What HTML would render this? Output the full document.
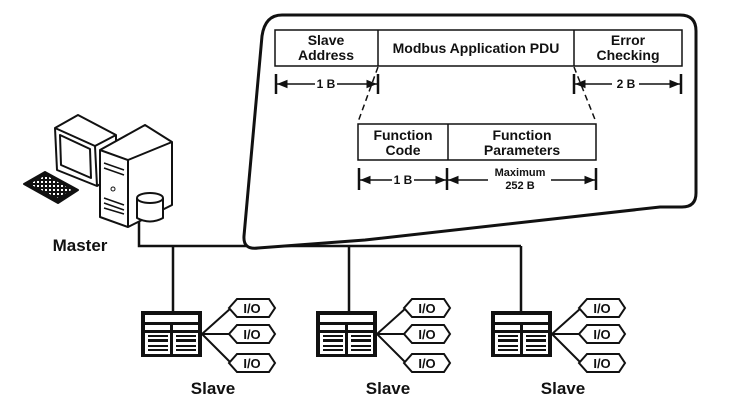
<!DOCTYPE html>
<html><head><style>
html,body{margin:0;padding:0;background:#fff;}
svg{display:block;}
text{font-family:"Liberation Sans",Arial,sans-serif;font-weight:bold;fill:#111;}
</style></head><body>
<svg width="730" height="407" viewBox="0 0 730 407" xmlns="http://www.w3.org/2000/svg">
<defs>
<marker id="ah" viewBox="0 0 10 10" refX="10" refY="5" markerWidth="8" markerHeight="7" orient="auto-start-reverse"><path d="M0,1 L10,5 L0,9 Z" fill="#111"/></marker>
<pattern id="keys" width="4" height="4" patternUnits="userSpaceOnUse"><rect width="4" height="4" fill="#111"/><rect x="1" y="1" width="2" height="2" fill="#fff"/></pattern>
<g id="slave">
  <rect x="0" y="0" width="61" height="46" fill="#111"/>
  <rect x="4" y="4" width="53" height="7" fill="#fff"/>
  <rect x="4" y="14" width="25" height="5" fill="#fff"/>
  <rect x="32" y="14" width="25" height="5" fill="#fff"/>
  <rect x="4" y="22" width="25" height="21" fill="#fff"/>
  <rect x="32" y="22" width="25" height="21" fill="#fff"/>
  <rect x="7" y="24" width="20" height="2" fill="#111"/><rect x="35" y="24" width="20" height="2" fill="#111"/>
  <rect x="7" y="28" width="20" height="3" fill="#111"/><rect x="35" y="28" width="20" height="3" fill="#111"/>
  <rect x="7" y="34" width="20" height="2" fill="#111"/><rect x="35" y="34" width="20" height="2" fill="#111"/>
  <rect x="7" y="38" width="20" height="2" fill="#111"/><rect x="35" y="38" width="20" height="2" fill="#111"/>
  <path d="M61,23 L90,-3 M61,23 L90,23 M61,23 L90,52" stroke="#111" stroke-width="2" fill="none"/>
  <g fill="#fff" stroke="#111" stroke-width="2">
   <path d="M88,-3 L96,-12 L128,-12 L134,-3 L128,6 L96,6 Z"/>
   <path d="M88,23 L96,14 L128,14 L134,23 L128,32 L96,32 Z"/>
   <path d="M88,52 L96,43 L128,43 L134,52 L128,61 L96,61 Z"/>
  </g>
  <text x="111" y="2" font-size="13" text-anchor="middle">I/O</text>
  <text x="111" y="28" font-size="13" text-anchor="middle">I/O</text>
  <text x="111" y="57" font-size="13" text-anchor="middle">I/O</text>
  <text x="72" y="83" font-size="17" text-anchor="middle">Slave</text>
</g>
</defs>

<path d="M139,222 V246 H521 M173,246 V311 M349,246 V311 M521,246 V311" stroke="#111" stroke-width="2.5" fill="none"/>

<path d="M282,15 H680 Q696,15 696,31 V193 Q696,207 682,207 H660 L365,240 L258,248 Q243,250 244,236 L262,36 Q265,15 282,15 Z" fill="#fff" stroke="#111" stroke-width="3"/>

<g fill="none" stroke="#111" stroke-width="1.5">
<rect x="275" y="30" width="407" height="36"/>
<line x1="378" y1="30" x2="378" y2="66"/><line x1="574" y1="30" x2="574" y2="66"/>
<rect x="358" y="124" width="238" height="36"/>
<line x1="448" y1="124" x2="448" y2="160"/>
</g>
<g font-size="14" text-anchor="middle">
<text x="326" y="45">Slave</text><text x="326" y="60">Address</text>
<text x="476" y="53">Modbus Application PDU</text>
<text x="628" y="45">Error</text><text x="628" y="60">Checking</text>
<text x="403" y="140">Function</text><text x="403" y="155">Code</text>
<text x="522" y="140">Function</text><text x="522" y="155">Parameters</text>
</g>
<g stroke="#111" stroke-width="2.5">
<line x1="276" y1="74" x2="276" y2="94"/><line x1="378" y1="74" x2="378" y2="94"/>
<line x1="574" y1="74" x2="574" y2="94"/><line x1="681" y1="74" x2="681" y2="94"/>
<line x1="359" y1="168" x2="359" y2="190"/><line x1="447" y1="168" x2="447" y2="190"/><line x1="596" y1="168" x2="596" y2="190"/>
</g>
<g stroke="#111" stroke-width="1.5" fill="none">
<line x1="277" y1="84" x2="315" y2="84" marker-start="url(#ah)"/><line x1="337" y1="84" x2="377" y2="84" marker-end="url(#ah)"/>
<line x1="575" y1="84" x2="612" y2="84" marker-start="url(#ah)"/><line x1="639" y1="84" x2="680" y2="84" marker-end="url(#ah)"/>
<line x1="360" y1="180" x2="392" y2="180" marker-start="url(#ah)"/><line x1="414" y1="180" x2="446" y2="180" marker-end="url(#ah)"/>
<line x1="448" y1="180" x2="488" y2="180" marker-start="url(#ah)"/><line x1="551" y1="180" x2="595" y2="180" marker-end="url(#ah)"/>
<path d="M378,67 L358,122 M574,67 L596,122" stroke-dasharray="6,4"/>
</g>
<g font-size="12" text-anchor="middle">
<text x="326" y="88">1 B</text><text x="626" y="88">2 B</text><text x="403" y="184">1 B</text>
<text x="520" y="176" font-size="11">Maximum</text><text x="520" y="189" font-size="11">252 B</text>
</g>

<g stroke="#111" stroke-width="2" fill="#fff" stroke-linejoin="round">
<path d="M55,128 L78,115 L116,135 L116,175 L97,186 L57,170 Z"/>
<path d="M55,128 L95,146 L97,186 M95,146 L116,135" fill="none"/>
<path d="M60,135 L90,149 L91,178 L61,165 Z" fill="#fff"/>
<path d="M24,184 L45,172 L78,190 L58,203 Z" fill="#111"/>
<path d="M29,184 L46,175 L72,190 L57,198 Z" fill="url(#keys)" stroke-width="0.5"/>
<path d="M100,150 L145,125 L172,142 L172,205 L128,227 L100,217 Z"/>
<path d="M100,150 L128,160 L172,142 M128,160 L128,227" fill="none"/>
<path d="M104,163 L124,170 M104,168 L124,175 M104,198 L124,205 M104,203 L124,210 M104,208 L124,214" fill="none" stroke-width="1.5"/>
<circle cx="113" cy="189" r="2" fill="none" stroke-width="1"/>
<path d="M137,198 V218 Q150,225 163,218 V198" />
<ellipse cx="150" cy="198" rx="13" ry="5"/>
</g>
<text x="80" y="251" font-size="17" text-anchor="middle">Master</text>

<use href="#slave" x="141" y="311"/>
<use href="#slave" x="316" y="311"/>
<use href="#slave" x="491" y="311"/>
</svg>
</body></html>
